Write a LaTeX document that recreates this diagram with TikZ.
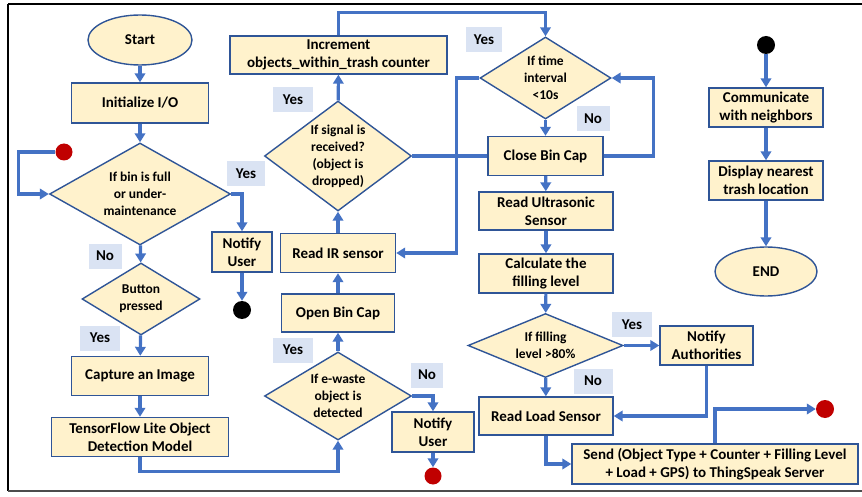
\documentclass[tikz,border=0pt]{standalone}
\usepackage{fontspec}
\setmainfont{Carlito}
\usetikzlibrary{arrows.meta,shapes.geometric}
\definecolor{boxfill}{HTML}{FFF2CC}
\definecolor{boxline}{HTML}{2F5597}
\definecolor{arrowblue}{HTML}{4472C4}
\definecolor{lblfill}{HTML}{DAE3F3}
\definecolor{dotred}{HTML}{C00000}
\begin{document}
\begin{tikzpicture}[x=1pt,y=-1pt,
  box/.style={draw=boxline, fill=boxfill, line width=1.4pt, inner sep=0pt, align=center,
    font=\fontsize{15}{18}\selectfont\bfseries},
  term/.style={ellipse, draw=boxline, fill=boxfill, line width=1.4pt, inner sep=0pt,
    font=\fontsize{15}{18}\selectfont\bfseries},
  diam/.style={diamond, draw=boxline, fill=boxfill, line width=1.4pt, inner sep=0pt},
  dtext/.style={align=center, inner sep=0pt, font=\fontsize{13.5}{17}\selectfont\bfseries},
  lbl/.style={fill=lblfill, inner sep=0pt, minimum height=25pt, font=\fontsize{15}{18}\selectfont\bfseries},
  reddot/.style={circle, fill=dotred, inner sep=0pt, minimum size=17pt},
  blackdot/.style={circle, fill=black, inner sep=0pt, minimum size=18pt},
  arr/.style={draw=arrowblue, line width=3.2pt, -{Triangle[length=9pt,width=10.5pt]}},
  plain/.style={draw=arrowblue, line width=3.2pt}
]
\useasboundingbox (0,0) rectangle (862,497);
% frame
\draw[line width=2pt] (8,4) -- (862,4);
\draw[line width=1.6pt] (8,4) -- (8,491);
\draw[line width=1.4pt, black!70] (8,491) -- (862,491);

% left column
\node[term, minimum width=104pt, minimum height=50pt] (start) at (140,40) {Start};
\node[box, minimum width=137pt, minimum height=40pt] (init) at (140,103) {Initialize I/O};
\node[diam, minimum width=181pt, minimum height=102pt,
  label={[dtext]center:{If bin is full\\or under-\\maintenance}}] (d1) at (140,194) {};
\node[reddot] (red1) at (64,152) {};
\node[lbl, minimum width=38pt] (yes1) at (246,174) {Yes};
\node[box, minimum width=60pt, minimum height=40pt] (notify1) at (242,252) {Notify\\User};
\node[blackdot] (black1) at (242,310) {};
\node[lbl, minimum width=33pt] (no1) at (105,256) {No};
\node[diam, minimum width=118pt, minimum height=72pt,
  label={[dtext]center:{Button\\pressed}}] (d2) at (141,299) {};
\node[lbl, minimum width=40pt] (yes2) at (100,338) {Yes};
\node[box, minimum width=137pt, minimum height=39pt] (capture) at (140,376) {Capture an Image};
\node[box, minimum width=177pt, minimum height=39pt] (tf) at (140,437) {TensorFlow Lite Object\\Detection Model};

% middle column
\node[diam, minimum width=147pt, minimum height=88pt,
  label={[dtext]center:{If e-waste\\object is\\detected}}] (d3) at (338,396) {};
\node[lbl, minimum width=40pt] (yes3) at (293,350) {Yes};
\node[lbl, minimum width=32pt] (no3) at (427,375) {No};
\node[box, minimum width=82pt, minimum height=40pt] (notify2) at (433,432) {Notify\\User};
\node[reddot] (red2) at (433,476) {};
\node[box, minimum width=113pt, minimum height=38pt] (open) at (338,313) {Open Bin Cap};
\node[box, minimum width=115pt, minimum height=39pt] (readir) at (338,253) {Read IR sensor};
\node[diam, minimum width=147pt, minimum height=110pt,
  label={[dtext]center:{If signal is\\received?\\(object is\\dropped)}}] (d4) at (338,156) {};
\node[lbl, minimum width=40pt] (yes4) at (293,100) {Yes};
\node[box, minimum width=217pt, minimum height=38pt] (incr) at (338.5,55) {Increment\\objects\_within\_trash counter};

% right-middle column
\node[diam, minimum width=131pt, minimum height=82pt,
  label={[dtext]center:{If time\\interval\\<10s}}] (d5) at (545.5,78) {};
\node[lbl, minimum width=36pt] (yes5) at (484,40) {Yes};
\node[lbl, minimum width=33pt] (no5) at (593,119) {No};
\node[box, minimum width=115pt, minimum height=39pt] (close) at (545.5,156) {Close Bin Cap};
\node[box, minimum width=134pt, minimum height=38pt] (ultra) at (546,211) {Read Ultrasonic\\Sensor};
\node[box, minimum width=134pt, minimum height=39pt] (calc) at (546,273.5) {Calculate the\\filling level};
\node[diam, minimum width=155pt, minimum height=64pt,
  label={[dtext]center:{If filling\\level >80\%}}] (d6) at (545.5,345.5) {};
\node[lbl, minimum width=40pt] (yes6) at (632,324.5) {Yes};
\node[box, minimum width=93pt, minimum height=39pt] (auth) at (706.5,345.5) {Notify\\Authorities};
\node[lbl, minimum width=39pt] (no6) at (593,381) {No};
\node[box, minimum width=134pt, minimum height=38pt] (load) at (546,416) {Read Load Sensor};
\node[box, minimum width=286pt, minimum height=40pt] (send) at (715,464) {Send (Object Type + Counter + Filling Level\\+ Load + GPS) to ThingSpeak Server};
\node[reddot, minimum size=18pt] (red3) at (825,409) {};

% far right column
\node[blackdot] (black2) at (766,45) {};
\node[box, minimum width=114pt, minimum height=39pt] (comm) at (766,107.5) {Communicate\\with neighbors};
\node[box, minimum width=114pt, minimum height=39pt] (disp) at (766,180.5) {Display nearest\\trash location};
\node[term, minimum width=102pt, minimum height=49pt] (end) at (766,271.5) {END};

% connectors
\draw[arr] (start) -- (init);
\draw[arr] (init) -- (d1);
\draw[arr] (red1.west) -- ++(-37,0) |- (d1.west);
\draw[arr] (d1.east) -| (notify1.north);
\draw[arr] (notify1) -- (black1);
\draw[arr] (d1) -- (d2);
\draw[arr] (d2) -- (capture);
\draw[arr] (capture) -- (tf);
\draw[arr] (tf.south) -- ++(0,14) -| (d3.south);
\draw[arr] (d3) -- (open);
\draw[arr] (d3.east) -| (notify2.north);
\draw[arr] (notify2) -- (red2);
\draw[arr] (open) -- (readir);
\draw[arr] (readir) -- (d4);
\draw[arr] (d4) -- (incr);
\draw[arr] (incr.north) -- ++(0,-23) -| (d5.north);
\draw[arr] (d5) -- (close);
\draw[arr] (close.east) -- ++(50,0) |- (d5.east);
\draw[arr] (d5.west) -- ++(-23,0) |- (readir.east);
\draw[plain] (d4.east) -- (close.west);
\draw[arr] (close) -- (ultra);
\draw[arr] (ultra) -- (calc);
\draw[arr] (calc) -- (d6);
\draw[arr] (d6.east) -- (auth.west);
\draw[arr] (d6) -- (load);
\draw[arr] (auth.south) |- (load.east);
\draw[arr] (load.south) |- (send.west);
\draw[arr] (send.north) |- (red3.west);
\draw[arr] (black2) -- (comm);
\draw[arr] (comm) -- (disp);
\draw[arr] (disp) -- (end);
\end{tikzpicture}
\end{document}
